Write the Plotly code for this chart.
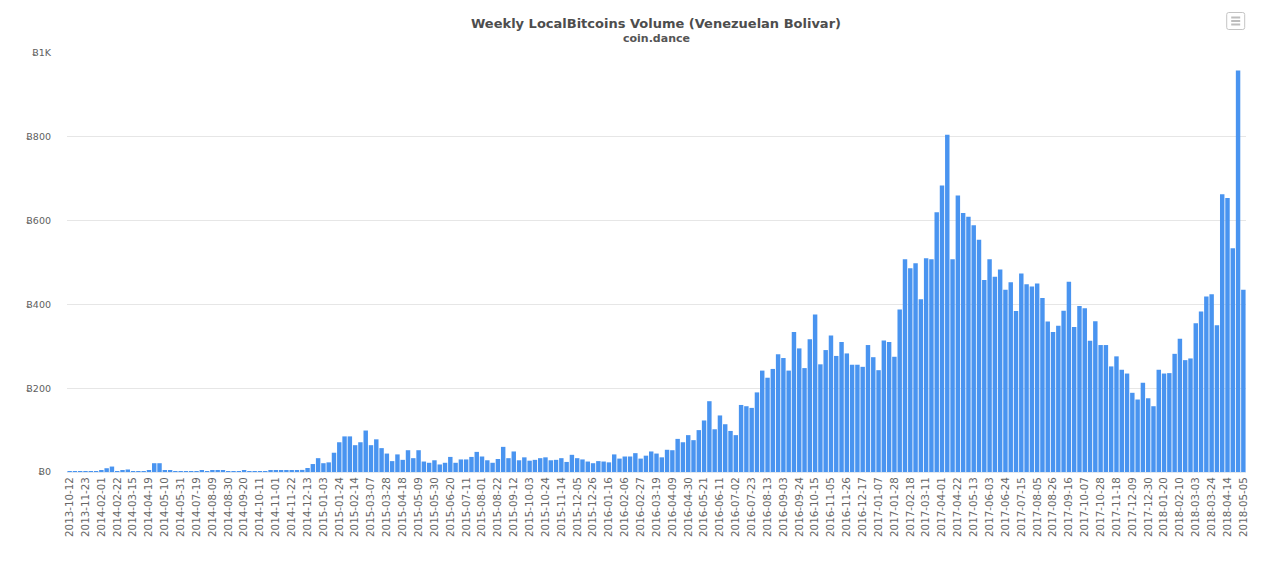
import pandas as pd
import plotly.graph_objects as go

early_weeks = ["2013-10-12","2013-10-26","2013-11-09","2013-11-23","2013-12-07","2014-01-04",
               "2014-02-01","2014-02-08","2014-02-15","2014-02-22","2014-03-01","2014-03-08",
               "2014-03-15","2014-03-29","2014-04-05","2014-04-19","2014-04-26","2014-05-03",
               "2014-05-10","2014-05-17","2014-05-24","2014-05-31","2014-06-14","2014-07-05"]
later_weeks = [d.strftime("%Y-%m-%d") for d in pd.date_range("2014-07-19", "2018-05-05", freq="7D")]
weeks = early_weeks + later_weeks

volume = [
    0.5,0.3,1.5,0.3,1.5,0.3,2.5,9,13,0.3,3,6,1.5,0.2,0.3,4,21,21,3,3,0.3,1,0.5,2,
    0.5,3,1,2.5,2.5,4,1,1,1,4,2,1,2,2,2.5,3.5,2.5,4,3,2.5,5,9.5,19,33,21,23,46,71,85,85,
    64,71,99,64,78,57,44,26,42,29,52,33,52,25,22,28,18,22,36,22,30,30,36,48,37,28,22,31,
    60,33,49,28,35,27,29,33,35,28,29,33,24,41,33,30,25,21,26,25,23,42,32,37,37,45,32,39,
    49,44,35,53,52,79,71,88,76,100,123,169,102,135,114,98,88,160,157,153,190,242,225,246,
    281,272,242,334,295,248,317,376,257,291,326,277,310,283,256,256,251,303,274,243,314,310,275,
    388,508,486,498,412,510,508,620,684,805,508,660,618,609,589,554,458,508,466,483,435,453,
    384,474,448,443,450,415,359,334,349,385,454,346,396,391,313,360,303,303,252,276,244,235,
    189,173,213,176,157,244,235,236,282,318,267,271,355,383,419,424,350,663,654,534,958,435,
]
y_ticks = [0, 200, 400, 600, 800, 1000]
y_labels = ["Ƀ0", "Ƀ200", "Ƀ400", "Ƀ600", "Ƀ800", "Ƀ1K"]
title_text = "Weekly LocalBitcoins Volume (Venezuelan Bolivar)"
subtitle_text = "coin.dance"

FONT = "DejaVu Sans"
OFF = 8  # the page keeps an 8 px body margin around the figure
LEFT = 66.6
W, H = 1179.2, 419
L, T = LEFT - OFF, 53 - OFF

def px(x): return (x - LEFT) / W
def py(y): return (472 - y) / H

def button_path(x0, x1, y0, y1, r=2):
    return (f"M {px(x0+r)},{py(y0)} L {px(x1-r)},{py(y0)} Q {px(x1)},{py(y0)} {px(x1)},{py(y0+r)} "
            f"L {px(x1)},{py(y1-r)} Q {px(x1)},{py(y1)} {px(x1-r)},{py(y1)} "
            f"L {px(x0+r)},{py(y1)} Q {px(x0)},{py(y1)} {px(x0)},{py(y1-r)} "
            f"L {px(x0)},{py(y0+r)} Q {px(x0)},{py(y0)} {px(x0+r)},{py(y0)} Z")

shapes = [dict(type="path", xref="paper", yref="paper", path=button_path(1226.5, 1244.5, 12.5, 29.5),
               line=dict(color="#c4c4c4", width=1), fillcolor="white")]
for yy in (17.5, 21, 24.5):
    shapes.append(dict(type="line", xref="paper", yref="paper", x0=px(1231), x1=px(1240), y0=py(yy), y1=py(yy),
                       line=dict(color="#bdbdbd", width=2)))

fig = go.Figure(go.Bar(x=weeks, y=volume, marker=dict(color="#4391f0", opacity=0.97, line=dict(width=0))))
fig.update_layout(
    width=1275 - OFF, height=561 - OFF, autosize=False,
    margin=dict(l=L, r=1275 - OFF - L - W, t=T, b=561 - OFF - T - H, pad=0),
    plot_bgcolor="white", paper_bgcolor="white",
    bargap=0.16, showlegend=False,
    font=dict(family=FONT, color="#666666", size=10),
    title=dict(text=f"<b>{title_text}</b>", x=(656 - OFF) / (1275 - OFF), xanchor="center",
               y=1 - (23.5 - OFF) / (561 - OFF), yanchor="middle",
               font=dict(family=FONT, size=13, color="#4d4d4d")),
    annotations=[dict(text=f"<b>{subtitle_text}</b>", xref="paper", yref="paper", x=px(656),
                      y=py(39), showarrow=False, xanchor="center", yanchor="middle",
                      font=dict(family=FONT, size=11, color="#555555"))],
    xaxis=dict(type="category", categoryorder="array", categoryarray=weeks, range=[-0.5, 222.5],
               tickmode="array", tickvals=weeks[::3], ticktext=weeks[::3], tickangle=-90,
               showgrid=False, zeroline=False, showline=True, linecolor="#dfe6ee", linewidth=1,
               ticks="", tickfont=dict(size=10.3, color="#666666")),
    yaxis=dict(range=[0, 1000], tickmode="array", tickvals=y_ticks, ticktext=y_labels,
               showgrid=True, gridcolor="#e6e6e6", gridwidth=1, zeroline=False, ticks="",
               ticklabelstandoff=15, tickfont=dict(size=9.5, color="#606060")),
    shapes=shapes,
)
fig.write_html("out.html", config={"displayModeBar": False})
